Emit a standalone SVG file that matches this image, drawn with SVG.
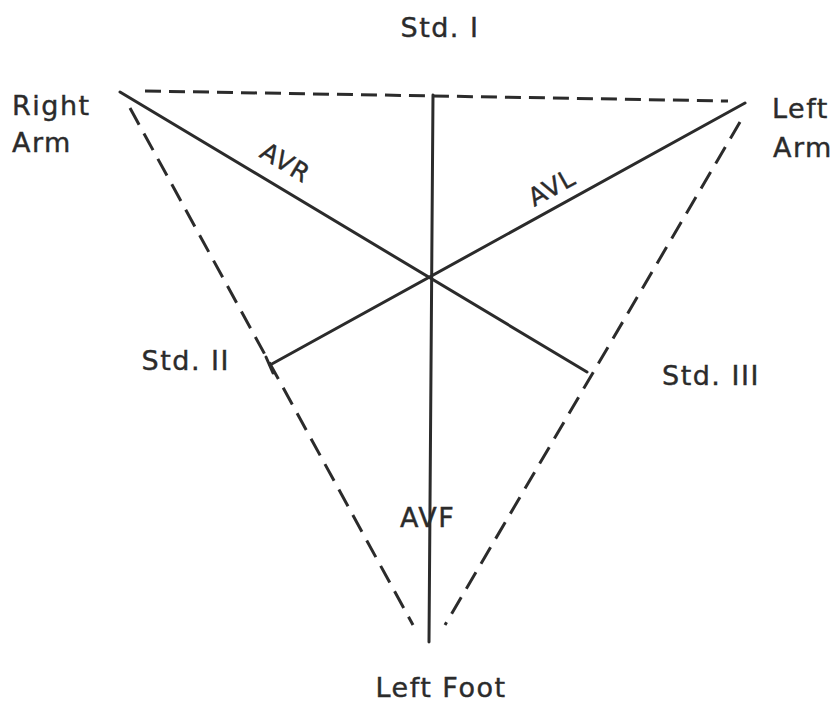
<svg xmlns="http://www.w3.org/2000/svg" width="838" height="702" viewBox="0 0 838 702">
<style>
.t{font-family:"DejaVu Sans","Liberation Sans",sans-serif;font-size:27px;fill:#2b2b2b;stroke:#2b2b2b;stroke-width:0.4;letter-spacing:1.5px}
.l{font-family:"DejaVu Sans","Liberation Sans",sans-serif;font-size:25px;fill:#2b2b2b;stroke:#2b2b2b;stroke-width:0.4;letter-spacing:1px}
.s{stroke:#2b2b2b;stroke-width:3;fill:none;stroke-linecap:round}
.d{stroke:#2b2b2b;stroke-width:3;fill:none;stroke-dasharray:16 8}
.dd{stroke:#2b2b2b;stroke-width:3;fill:none;stroke-dasharray:19 10}
</style>
<rect width="838" height="702" fill="#ffffff"/>
<g id="connectors">
<path class="d" d="M145 91 L728 101"/>
<path class="dd" d="M130 108 L413 625"/>
<path class="dd" d="M740 122 L445 625"/>
<path class="s" d="M433 95 L429 642"/>
<path class="s" d="M120 92 L587 372"/>
<path class="s" d="M745 103 L270 365"/>
<path class="s" d="M266 357 L273 373"/>
</g>
<g id="std1"><text class="t" x="440" y="37" text-anchor="middle">Std. I</text></g>
<g id="right-arm"><text class="t" x="12" y="115">Right</text><text class="t" x="12" y="152">Arm</text></g>
<g id="left-arm"><text class="t" x="772" y="118">Left</text><text class="t" x="773" y="157">Arm</text></g>
<g id="std2"><text class="t" x="230" y="370" text-anchor="end">Std. II</text></g>
<g id="std3"><text class="t" x="662" y="385">Std. III</text></g>
<g id="left-foot"><text class="t" x="441" y="697" text-anchor="middle">Left Foot</text></g>
<g id="avr"><text class="l" transform="translate(281 170) rotate(31)" text-anchor="middle">AVR</text></g>
<g id="avl"><text class="l" transform="translate(556 195) rotate(-29)" text-anchor="middle">AVL</text></g>
<g id="avf"><text class="t" x="400" y="527">AVF</text></g>
</svg>
